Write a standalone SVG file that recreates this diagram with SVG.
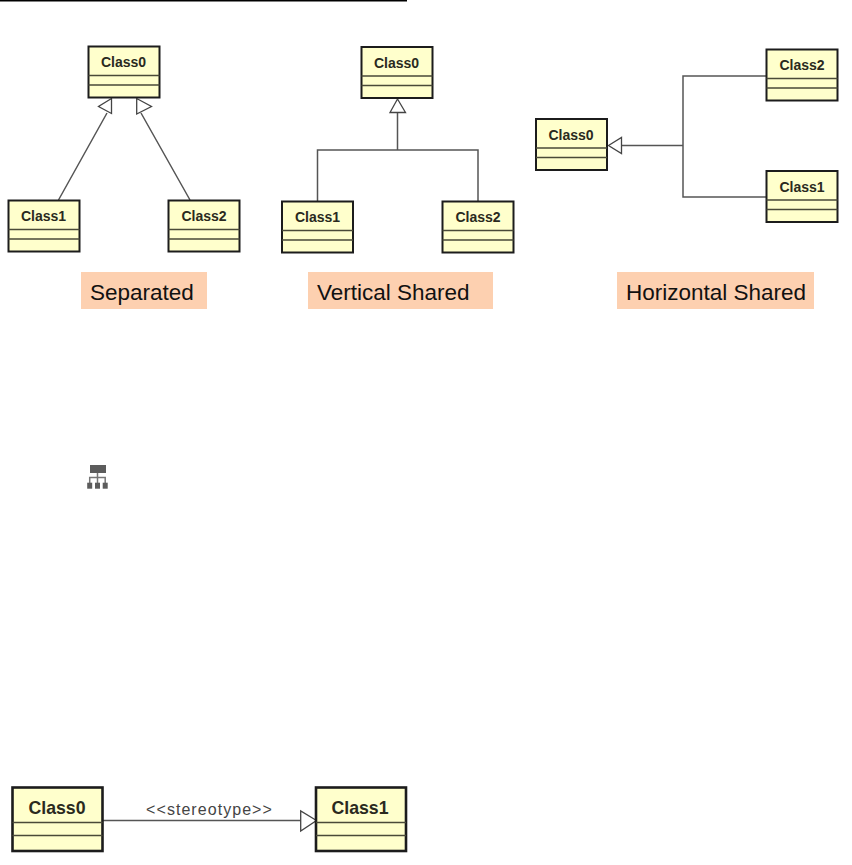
<svg xmlns="http://www.w3.org/2000/svg" width="852" height="865" viewBox="0 0 852 865">
<style>
.box{fill:#ffffcc;stroke:#1c1c1c;stroke-width:2}
.div{stroke:#4a4a38;stroke-width:1.3;fill:none}
.t{font-family:"Liberation Sans",Arial,sans-serif;font-weight:bold;font-size:14px;fill:#2a2a1e;text-anchor:middle}
.big{font-size:17.700px}
.c{fill:none;stroke:#555;stroke-width:1.500}
.h{fill:#fff;stroke:#444;stroke-width:1.300}
.lb{fill:#fdd0b0}
.lt{font-family:"Liberation Sans",Arial,sans-serif;font-size:22.500px;fill:#111}
</style>
<defs>
<g id="cls"><rect class="box" x="0" y="0" width="71" height="51"/><path class="div" d="M0 29H71M0 38.500H71"/></g>
<g id="clsb"><rect class="box" style="stroke-width:2.600" x="0" y="0" width="90" height="63.500"/><path class="div" d="M0 35H90M0 48H90"/></g>
</defs>
<rect x="0" y="0" width="407" height="1.500" fill="#000"/>
<g id="connectors">
<path class="c" d="M58.500 200L107 113M190 200L141 113"/>
<polygon class="h" points="111.500,98.500 98.500,106.500 111.500,113.500"/>
<polygon class="h" points="136.700,98.500 136.700,114 151.500,106.500"/>
<path class="c" d="M397.500 113V150M317.500 201V150H478V201"/>
<polygon class="h" points="397.500,99 390,112.500 405.500,112.500"/>
<path class="c" d="M621 145.500H683M766 76H683V197H766"/>
<polygon class="h" points="608.500,145.500 621.500,137.500 621.500,153.500"/>
<path class="c" d="M103 820.500H301"/>
<polygon class="h" points="316.500,820.500 300.700,811 300.700,831"/>
</g>
<g id="sep-class0"><use href="#cls" x="88.500" y="46.500"/><text class="t" x="123.500" y="67">Class0</text></g>
<g id="sep-class1"><use href="#cls" x="8.500" y="200.500"/><text class="t" x="43.500" y="221">Class1</text></g>
<g id="sep-class2"><use href="#cls" x="168.500" y="200.500"/><text class="t" x="204" y="221">Class2</text></g>
<g id="ver-class0"><use href="#cls" x="361.500" y="47"/><text class="t" x="396.500" y="67.500">Class0</text></g>
<g id="ver-class1"><use href="#cls" x="282" y="201.500"/><text class="t" x="317.500" y="222">Class1</text></g>
<g id="ver-class2"><use href="#cls" x="442.500" y="201.500"/><text class="t" x="478" y="222">Class2</text></g>
<g id="hor-class0"><use href="#cls" x="536" y="119"/><text class="t" x="571" y="139.500">Class0</text></g>
<g id="hor-class2"><use href="#cls" x="766.500" y="49.500"/><text class="t" x="802" y="70">Class2</text></g>
<g id="hor-class1"><use href="#cls" x="766.500" y="171"/><text class="t" x="802" y="191.500">Class1</text></g>
<g id="label-separated"><rect class="lb" x="81" y="272" width="126" height="37"/><text class="lt" x="90" y="300">Separated</text></g>
<g id="label-vertical"><rect class="lb" x="308" y="272" width="185" height="37"/><text class="lt" x="317" y="300">Vertical Shared</text></g>
<g id="label-horizontal"><rect class="lb" x="617" y="272" width="197" height="37"/><text class="lt" x="626" y="300">Horizontal Shared</text></g>
<g id="icon" fill="#5c5c5c">
<rect x="90" y="465" width="16" height="8"/>
<path d="M97.500 473V483M89.700 483V477.500H105.200V483" fill="none" stroke="#777" stroke-width="1.500"/>
<rect x="87.200" y="482.700" width="5" height="6"/><rect x="95" y="482.700" width="5" height="6"/><rect x="102.700" y="482.700" width="5" height="6"/>
</g>
<g id="bot-class0"><use href="#clsb" x="12.500" y="787.500"/><text class="t big" x="57" y="813.500">Class0</text></g>
<g id="bot-class1"><use href="#clsb" x="316" y="787.500"/><text class="t big" x="360" y="813.500">Class1</text></g>
<text id="stereo" x="209.500" y="815" text-anchor="middle" font-family="'Liberation Sans',Arial,sans-serif" font-size="16" letter-spacing="1.050" fill="#444">&lt;&lt;stereotype&gt;&gt;</text>
</svg>
